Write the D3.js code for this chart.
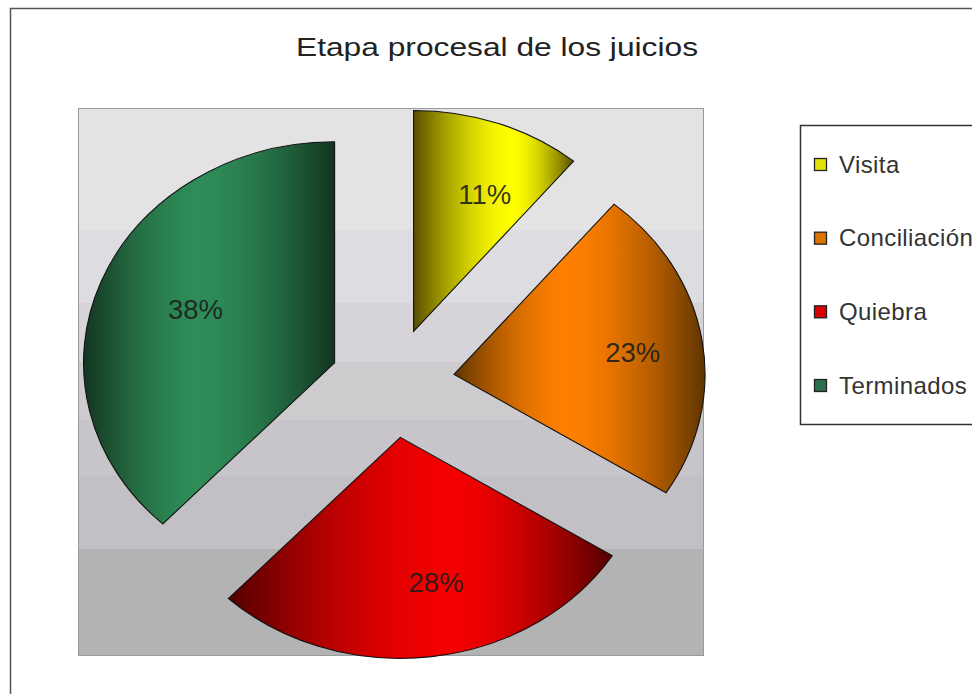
<!DOCTYPE html>
<html>
<head>
<meta charset="utf-8">
<script src="https://cdn.jsdelivr.net/npm/d3@7"></script>
<style>
  html, body { margin: 0; padding: 0; background: #ffffff; }
  svg { display: block; }
  text { font-family: "Liberation Sans", Arial, Helvetica, sans-serif; }
</style>
</head>
<body>
<svg id="chart" width="972" height="694"></svg>
<script>
// ---- data ----
const categories = ["Visita", "Conciliación", "Quiebra", "Terminados"];
const values = [11, 23, 28, 38];
const labels = ["11%", "23%", "28%", "38%"];
const brightColors = ["#ffff00", "#ff8000", "#f40000", "#2e8c58"];
const darkColors = ["#4e4400", "#553000", "#480000", "#10301c"];
const gradientPeaks = [0.62, 0.45, 0.58, 0.46];
const legendColors = ["#e2e20a", "#dc7400", "#d80000", "#2c6e4e"];
const title = "Etapa procesal de los juicios";

// ---- layout ----
const svg = d3.select("#chart");
const defs = svg.append("defs");

// outer frame
svg.append("rect")
  .attr("x", 10.5).attr("y", 8.5)
  .attr("width", 990).attr("height", 720)
  .attr("fill", "#ffffff").attr("stroke", "#555555").attr("stroke-width", 1.5);

// title
svg.append("text")
  .attr("x", 497).attr("y", 56)
  .attr("text-anchor", "middle")
  .attr("font-size", 26.5)
  .attr("fill", "#222222")
  .attr("textLength", 402)
  .attr("lengthAdjust", "spacingAndGlyphs")
  .text(title);

// plot area with stepped gray gradient
const box = { x: 78, y: 108, w: 625, h: 547 };
const bg = defs.append("linearGradient").attr("id", "bg")
  .attr("x1", 0).attr("y1", 0).attr("x2", 0).attr("y2", 1);
const bands = [
  [0.000, 0.223, "#e3e3e4"],
  [0.223, 0.355, "#dddce0"],
  [0.355, 0.464, "#d6d4d8"],
  [0.464, 0.569, "#cecbcf"],
  [0.569, 0.671, "#c7c5c9"],
  [0.671, 0.806, "#c2c0c4"],
  [0.806, 1.000, "#b3b3b3"]
];
bands.forEach(b => {
  bg.append("stop").attr("offset", b[0]).attr("stop-color", b[2]);
  bg.append("stop").attr("offset", b[1]).attr("stop-color", b[2]);
});
svg.append("rect")
  .attr("x", box.x + 0.5).attr("y", box.y + 0.5)
  .attr("width", box.w).attr("height", box.h)
  .attr("fill", "url(#bg)").attr("stroke", "#9a9a9a").attr("stroke-width", 1);

// slice gradients (horizontal, dark-bright-dark, peak per slice)
const stopOffsets = d3.range(0, 1.0001, 0.05);
categories.forEach((c, i) => {
  const g = defs.append("linearGradient").attr("id", "g" + i)
    .attr("x1", 0).attr("y1", 0).attr("x2", 1).attr("y2", 0);
  const interp = d3.interpolateRgb(darkColors[i], brightColors[i]);
  const p = gradientPeaks[i];
  stopOffsets.forEach(o => {
    const u = o < p ? (p - o) / p : (o - p) / (1 - p);   // 0 at peak, 1 at edges
    const b = Math.max(0, 1 - Math.pow(u, 1.6)) * 0.95 + 0.05;
    g.append("stop").attr("offset", o).attr("stop-color", interp(b));
  });
});

// pie geometry
const R = 221;                       // vertical radius
const sx = 1.136;                    // horizontal stretch of the pie
const explode = 0.248 * R;
const cx = box.x + box.w / 2 + 2, cy = box.y + box.h / 2 + 1.5;

const pie = d3.pie().sort(null).value(d => d)
  .startAngle(0).endAngle(2 * Math.PI);
const arcs = pie(values);
const arc = d3.arc().innerRadius(0).outerRadius(R);
const labelArc = d3.arc().innerRadius(0.66 * R).outerRadius(0.66 * R);

const pieG = svg.append("g")
  .attr("transform", `translate(${cx},${cy}) scale(${sx},1)`);

pieG.selectAll("path.slice")
  .data(arcs)
  .join("path")
  .attr("class", "slice")
  .attr("transform", d => {
    const m = (d.startAngle + d.endAngle) / 2;
    return `translate(${Math.sin(m) * explode},${-Math.cos(m) * explode})`;
  })
  .attr("d", arc)
  .attr("fill", (d, i) => `url(#g${i})`)
  .attr("stroke", "#111111")
  .attr("stroke-width", 1.1)
  .attr("vector-effect", "non-scaling-stroke")
  .attr("stroke-linejoin", "miter");

// data labels (unscaled text, placed in screen coords)
svg.selectAll("text.lbl")
  .data(arcs)
  .join("text")
  .attr("class", "lbl")
  .attr("x", d => {
    const m = (d.startAngle + d.endAngle) / 2;
    const c = labelArc.centroid(d);
    return cx + (c[0] + Math.sin(m) * explode) * sx;
  })
  .attr("y", d => {
    const m = (d.startAngle + d.endAngle) / 2;
    const c = labelArc.centroid(d);
    return cy + c[1] - Math.cos(m) * explode;
  })
  .attr("dx", 15)
  .attr("dy", "0.36em")
  .attr("text-anchor", "middle")
  .attr("font-size", 27.5)
  .attr("fill", "#1c1c1c")
  .attr("fill-opacity", 0.9)
  .text((d, i) => labels[i]);

// legend
const lg = svg.append("g");
lg.append("rect")
  .attr("x", 800.5).attr("y", 125.5)
  .attr("width", 240).attr("height", 299)
  .attr("fill", "#ffffff").attr("stroke", "#333333").attr("stroke-width", 1.5);

const legendY = d3.scalePoint().domain(categories).range([164.5, 385.5]);
const items = lg.selectAll("g.item")
  .data(categories)
  .join("g")
  .attr("class", "item")
  .attr("transform", d => `translate(814,${legendY(d)})`);
items.append("rect")
  .attr("x", 0.5).attr("y", -6)
  .attr("width", 12).attr("height", 12)
  .attr("fill", (d, i) => legendColors[i])
  .attr("stroke", "#222222").attr("stroke-width", 1.3);
items.append("text")
  .attr("x", 25).attr("y", 8)
  .attr("font-size", 24)
  .attr("letter-spacing", 0.4)
  .attr("fill", "#333333")
  .text(d => d);
</script>
</body>
</html>
